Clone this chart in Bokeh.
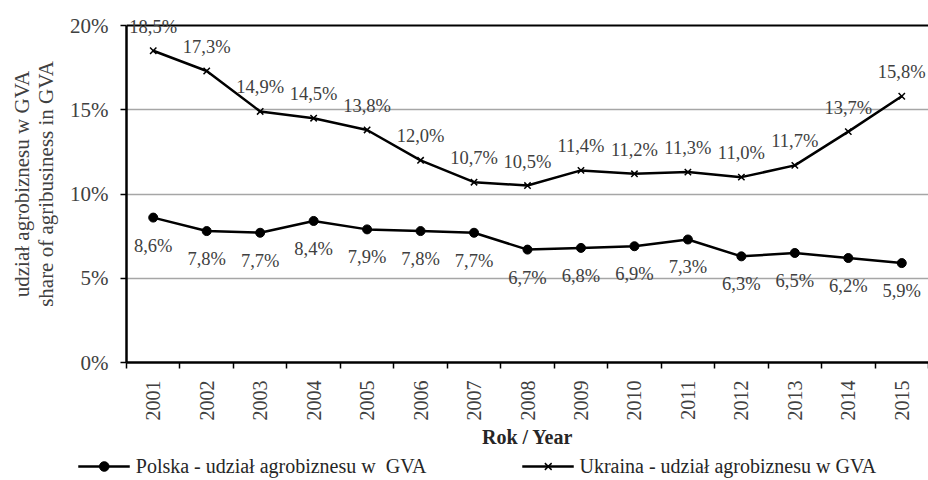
import math
from bokeh.plotting import figure
from bokeh.layouts import column, row
from bokeh.models import (ColumnDataSource, FixedTicker, PrintfTickFormatter, LabelSet,
                          Legend, LegendItem, Span, Range1d)
from bokeh.embed import file_html
from bokeh.resources import INLINE

years = ["2001", "2002", "2003", "2004", "2005", "2006", "2007", "2008",
         "2009", "2010", "2011", "2012", "2013", "2014", "2015"]
polska = [8.6, 7.8, 7.7, 8.4, 7.9, 7.8, 7.7, 6.7, 6.8, 6.9, 7.3, 6.3, 6.5, 6.2, 5.9]
ukraina = [18.5, 17.3, 14.9, 14.5, 13.8, 12.0, 10.7, 10.5, 11.4, 11.2, 11.3, 11.0, 11.7, 13.7, 15.8]
y_ticks = [0, 5, 10, 15, 20]
series_names = ["Polska - udział agrobiznesu w  GVA", "Ukraina - udział agrobiznesu w GVA"]

FONT = "Liberation Serif"
TXT = "#404040"

xs = list(range(1, len(years) + 1))


def fmt(v):
    return f"{v:.1f}%".replace(".", ",")


src_pl = ColumnDataSource(dict(x=xs, y=polska, t=[fmt(v) for v in polska]))
src_ua = ColumnDataSource(dict(x=xs, y=ukraina, t=[fmt(v) for v in ukraina]))

# frame extends 20px above the 20% line so labels near the top are not clipped
px_per_unit = 337 / 20
y_top = 20 + 20 / px_per_unit

p = figure(width=928, height=452, output_backend="svg", toolbar_location=None,
           x_range=Range1d(0.5, len(years) + 0.5), y_range=Range1d(0, y_top),
           min_border_left=126, min_border_top=5, min_border_right=0, min_border_bottom=90)
p.outline_line_color = None
p.background_fill_color = "white"
p.border_fill_color = "white"

# x axis
p.xaxis.ticker = FixedTicker(ticks=xs, minor_ticks=[i + 0.5 for i in range(0, len(years) + 1)])
p.xaxis.major_label_overrides = {x: y for x, y in zip(xs, years)}
p.xaxis.major_label_orientation = math.pi / 2
p.xaxis.major_tick_out = 0
p.xaxis.major_tick_in = 0
p.xaxis.minor_tick_out = 6
p.xaxis.minor_tick_in = 0
p.xaxis.minor_tick_line_color = "black"
p.xaxis.minor_tick_line_width = 1.5
p.xaxis.major_label_standoff = 12
p.xaxis.major_label_text_font = FONT
p.xaxis.major_label_text_font_size = "20px"
p.xaxis.major_label_text_color = TXT
p.xaxis.axis_line_color = "black"
p.xaxis.axis_line_width = 2.5
p.xaxis.axis_label = "Rok / Year"
p.xaxis.axis_label_text_font = FONT
p.xaxis.axis_label_text_font_size = "20px"
p.xaxis.axis_label_text_font_style = "bold"
p.xaxis.axis_label_text_color = "#262626"
p.xaxis.axis_label_standoff = 2

# y axis
p.yaxis.ticker = FixedTicker(ticks=y_ticks)
p.yaxis.formatter = PrintfTickFormatter(format="%d%%")
p.yaxis.bounds = (0, 20)
p.yaxis.minor_tick_line_color = None
p.yaxis.major_tick_out = 6
p.yaxis.major_tick_in = 0
p.yaxis.major_tick_line_width = 1.5
p.yaxis.major_label_standoff = 12
p.yaxis.major_label_text_font = FONT
p.yaxis.major_label_text_font_size = "21px"
p.yaxis.major_label_text_color = TXT
p.yaxis.axis_line_color = "black"
p.yaxis.axis_line_width = 2.5
p.yaxis.axis_label = "udział agrobiznesu w GVA\nshare of agribusiness in GVA"
p.yaxis.axis_label_text_font = FONT
p.yaxis.axis_label_text_font_size = "21px"
p.yaxis.axis_label_text_font_style = "normal"
p.yaxis.axis_label_text_color = TXT
p.yaxis.axis_label_text_line_height = 1.0
p.yaxis.axis_label_standoff = 9

p.xgrid.grid_line_color = None
p.ygrid.ticker = FixedTicker(ticks=[5, 10, 15])
p.ygrid.grid_line_color = "#a6a6a6"
p.ygrid.grid_line_width = 1.5

p.add_layout(Span(location=20, dimension="width", line_color="black", line_width=2))


def draw_series(fig):
    a = fig.line("x", "y", source=src_pl, line_color="black", line_width=2.5)
    b = fig.scatter("x", "y", source=src_pl, marker="circle", size=9,
                    fill_color="black", line_color="black")
    c = fig.line("x", "y", source=src_ua, line_color="black", line_width=2.5)
    d = fig.scatter("x", "y", source=src_ua, marker="x", size=9,
                    line_color="black", line_width=1.5)
    return a, b, c, d


draw_series(p)

p.add_layout(LabelSet(x="x", y="y", text="t", source=src_ua, y_offset=24,
                      text_align="center", text_baseline="middle",
                      text_font=FONT, text_font_size="18.5px", text_color=TXT))
p.add_layout(LabelSet(x="x", y="y", text="t", source=src_pl, y_offset=-28,
                      text_align="center", text_baseline="middle",
                      text_font=FONT, text_font_size="18.5px", text_color=TXT))

# legend strip below the chart (same series, out-of-view range: only the legend shows)
lg = figure(width=928, height=28, output_backend="svg", toolbar_location=None,
            x_range=Range1d(100, 101), y_range=Range1d(100, 101),
            x_axis_location=None, y_axis_location=None,
            min_border_left=26, min_border_right=0, min_border_top=0, min_border_bottom=0)
lg.outline_line_color = None
lg.xgrid.grid_line_color = None
lg.ygrid.grid_line_color = None
r1, r2, r3, r4 = draw_series(lg)
legend = Legend(items=[
    LegendItem(label=series_names[0], renderers=[r1, r2]),
    LegendItem(label=series_names[1], renderers=[r3, r4]),
], orientation="horizontal", location="center",
    label_text_font=FONT, label_text_font_size="20px", label_text_color="#262626",
    glyph_width=52, glyph_height=24, label_height=24, label_standoff=6, spacing=95,
    padding=0, margin=0, border_line_color=None, background_fill_alpha=0)
lg.add_layout(legend)

layout = column(p, row(lg), spacing=0)
open("out.html", "w").write(file_html(layout, INLINE))
